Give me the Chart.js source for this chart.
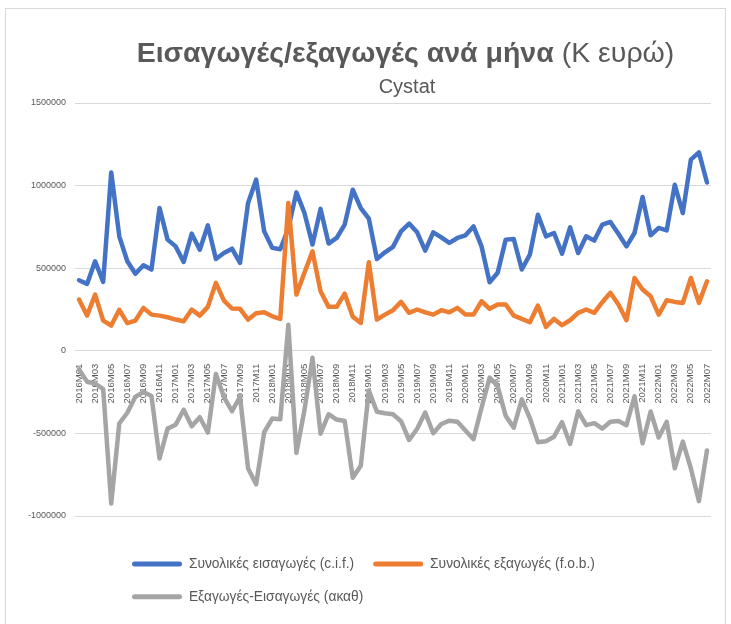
<!DOCTYPE html>
<html>
<head>
  <meta charset="utf-8">
  <title>Εισαγωγές/εξαγωγές ανά μήνα</title>
  <script src="https://cdn.jsdelivr.net/npm/chart.js"></script>
  <style>
    body { margin: 0; background: #fff; }
    #wrap { position: relative; width: 731px; height: 624px; overflow: hidden; font-family: "Liberation Sans", Arial, sans-serif; color: #595959; }
    #frame { position: absolute; left: 5px; top: 8px; width: 719px; height: 640px; border: 1px solid #d9d9d9; }
    #titlos { position: absolute; left: 0; top: 38px; width: 811px; text-align: center; font-size: 28.5px; line-height: 28px; white-space: nowrap; }
    #titlos b { font-weight: bold; }
    #ypotitlos { position: absolute; left: 0; top: 76px; width: 814px; text-align: center; font-size: 20px; line-height: 20px; }
    canvas { position: absolute; left: 0; top: 0; }
  </style>
</head>
<body>
<div id="wrap">
  <div id="frame"></div>
  <canvas id="grafima" width="731" height="624"></canvas>
  <div id="titlos"><b>Εισαγωγές/εξαγωγές ανά μήνα</b> (Κ ευρώ)</div>
  <div id="ypotitlos">Cystat</div>
</div>
<script>
  // μήνες 2016M01 .. 2022M07
  var etiketes = [];
  for (var y = 2016; y <= 2022; y++) {
    for (var m = 1; m <= 12; m++) {
      if (y === 2022 && m > 7) break;
      etiketes.push(y + 'M' + (m < 10 ? '0' + m : m));
    }
  }

  // Συνολικές εισαγωγές (c.i.f.)
  var eisagoges = [
    427000, 405000, 542000, 417000, 1080000, 693000, 542000, 466000, 518000, 492000, 864000, 673000,
    632000, 538000, 709000, 612000, 759000, 556000, 592000, 618000, 532000, 895000, 1036000, 723000,
    623000, 615000, 740000, 959000, 834000, 643000, 859000, 649000, 683000, 764000, 975000, 864000,
    800000, 556000, 596000, 629000, 723000, 770000, 717000, 606000, 717000, 687000, 653000, 683000,
    699000, 753000, 632000, 415000, 472000, 673000, 677000, 492000, 582000, 824000, 693000, 713000,
    588000, 747000, 592000, 693000, 667000, 764000, 780000, 709000, 632000, 713000, 931000, 699000,
    744000, 729000, 1005000, 834000, 1157000, 1201000, 1019000
  ];

  // Συνολικές εξαγωγές (f.o.b.)
  var exagoges = [
    310000, 213000, 340000, 183000, 153000, 248000, 167000, 183000, 260000, 219000, 213000, 203000,
    189000, 179000, 250000, 213000, 266000, 411000, 304000, 256000, 254000, 189000, 227000, 233000,
    209000, 193000, 895000, 340000, 472000, 602000, 360000, 266000, 266000, 346000, 206000, 169000,
    536000, 189000, 219000, 246000, 296000, 230000, 250000, 233000, 219000, 246000, 233000, 260000,
    219000, 219000, 300000, 254000, 280000, 280000, 213000, 193000, 173000, 274000, 145000, 193000,
    155000, 185000, 230000, 250000, 230000, 294000, 351000, 280000, 185000, 441000, 371000, 330000,
    219000, 306000, 296000, 290000, 441000, 290000, 421000
  ];

  // Εξαγωγές-Εισαγωγές (ακαθ)
  var isozygio = [
    -113000, -187000, -198000, -232000, -925000, -440000, -375000, -278000, -250000, -274000, -652000, -471000,
    -448000, -357000, -457000, -402000, -495000, -140000, -280000, -366000, -278000, -712000, -808000, -493000,
    -410000, -415000, 157000, -618000, -360000, -42000, -502000, -384000, -416000, -425000, -768000, -696000,
    -240000, -369000, -378000, -384000, -426000, -540000, -472000, -374000, -499000, -443000, -423000, -429000,
    -483000, -535000, -345000, -162000, -215000, -394000, -465000, -294000, -407000, -553000, -547000, -520000,
    -432000, -564000, -366000, -450000, -438000, -471000, -430000, -425000, -450000, -275000, -560000, -367000,
    -525000, -430000, -711000, -550000, -712000, -910000, -603000
  ];

  var yTicks = [-1000000, -500000, 0, 500000, 1000000, 1500000];

  // μετακίνηση του υπομνήματος όπως στο Excel
  var metakinisiYpomnimatos = {
    id: 'metakinisiYpomnimatos',
    afterLayout: function(chart) {
      var lg = chart.legend;
      lg.left = 113;
      lg.right = 720;
      lg.top += 22;
      lg.bottom += 22;
    }
  };

  function seira(label, data, color, order) {
    return {
      label: label,
      data: data,
      borderColor: color,
      backgroundColor: color,
      borderWidth: 4.5,
      pointRadius: 0,
      tension: 0,
      borderJoinStyle: 'round',
      borderCapStyle: 'round',
      order: order
    };
  }

  var ctx = document.getElementById('grafima').getContext('2d');
  new Chart(ctx, {
    type: 'line',
    data: {
      labels: etiketes,
      datasets: [
        seira('Συνολικές εισαγωγές (c.i.f.)', eisagoges, '#4472C4', 3),
        seira('Συνολικές εξαγωγές (f.o.b.)', exagoges, '#ED7D31', 2),
        seira('Εξαγωγές-Εισαγωγές (ακαθ)', isozygio, '#A5A5A5', 1)
      ]
    },
    plugins: [metakinisiYpomnimatos],
    options: {
      responsive: false,
      animation: false,
      layout: { padding: { left: 0, right: 20, top: 103, bottom: 32.4 } },
      plugins: {
        tooltip: { enabled: false },
        title: { display: false },
        legend: {
          position: 'bottom',
          align: 'start',
          labels: {
            color: '#595959',
            font: { family: 'Liberation Sans', size: 13.8 },
            boxWidth: 50,
            boxHeight: 5,
            padding: 19,
            useBorderRadius: true,
            borderRadius: 2.5,
            sort: function(a, b) { return a.datasetIndex - b.datasetIndex; },
            generateLabels: function(chart) {
              var items = Chart.defaults.plugins.legend.labels.generateLabels(chart);
              items.forEach(function(it) { it.lineWidth = 0; it.fillStyle = it.strokeStyle; });
              return items;
            }
          }
        }
      },
      scales: {
        x: {
          position: { y: 0 },
          offset: true,
          grid: { display: false },
          border: { display: true, color: '#d9d9d9', width: 1 },
          ticks: {
            autoSkip: false,
            minRotation: 90,
            maxRotation: 90,
            padding: 5,
            color: '#595959',
            font: { family: 'Liberation Sans', size: 9.5 },
            callback: function(v, i) { return i % 2 === 0 ? etiketes[i] : ''; }
          }
        },
        y: {
          min: yTicks[0],
          max: yTicks[yTicks.length - 1],
          afterFit: function(scale) { scale.width = 75; },
          afterBuildTicks: function(scale) { scale.ticks = yTicks.map(function(v) { return { value: v }; }); },
          grid: { color: '#d9d9d9', lineWidth: 1, drawTicks: false },
          border: { display: false },
          ticks: {
            padding: 9,
            color: '#595959',
            font: { family: 'Liberation Sans', size: 9 },
            callback: function(v) { return String(v); }
          }
        }
      }
    }
  });
</script>
</body>
</html>
